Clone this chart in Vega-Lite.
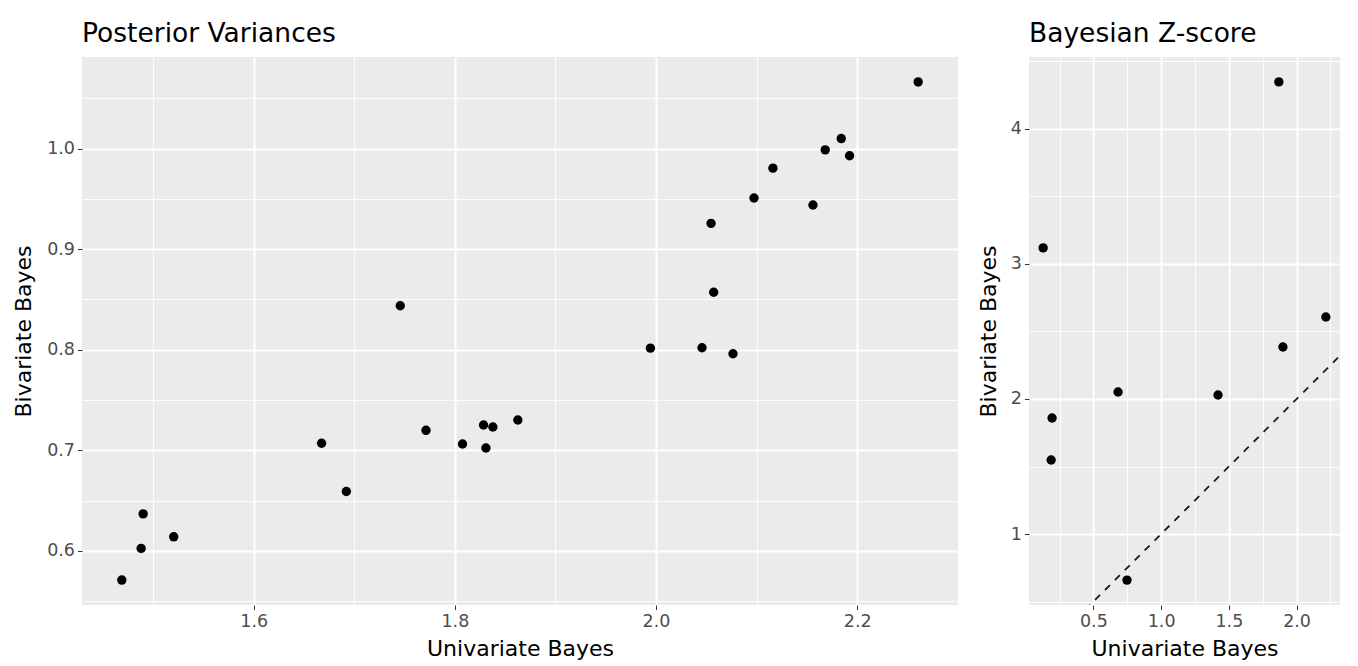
{
  "$schema": "https://vega.github.io/schema/vega-lite/v6.json",
  "background": "white",
  "padding": {"left": 12, "top": 20, "right": 4, "bottom": 4},
  "bounds": "flush",
  "spacing": 71,
  "config": {
    "font": "DejaVu Sans",
    "view": {"fill": "#EBEBEB", "stroke": null},
    "title": {"anchor": "start", "frame": "group", "fontSize": 26.5, "fontWeight": "normal", "color": "#000000", "baseline": "alphabetic", "offset": 10},
    "axis": {
      "domain": false,
      "tickColor": "#333333",
      "tickWidth": 1,
      "labelFontSize": 17.5,
      "labelColor": "#4D4D4D",
      "labelPadding": 3,
      "titleFontSize": 22,
      "titleFontWeight": "normal",
      "titleColor": "#000000",
      "gridColor": "#FFFFFF"
    }
  },
  "datasets": {
    "pv": [
      {"u": 1.4689, "b": 0.5709},
      {"u": 1.4881, "b": 0.6024},
      {"u": 1.4901, "b": 0.6367},
      {"u": 1.5205, "b": 0.6139},
      {"u": 1.6675, "b": 0.7069},
      {"u": 1.6921, "b": 0.6590},
      {"u": 1.7457, "b": 0.8436},
      {"u": 1.7713, "b": 0.7198},
      {"u": 1.8076, "b": 0.7062},
      {"u": 1.8285, "b": 0.7251},
      {"u": 1.8309, "b": 0.7022},
      {"u": 1.8378, "b": 0.7231},
      {"u": 1.8626, "b": 0.7300},
      {"u": 1.9944, "b": 0.8015},
      {"u": 2.0457, "b": 0.8019},
      {"u": 2.0765, "b": 0.7959},
      {"u": 2.0573, "b": 0.8571},
      {"u": 2.0547, "b": 0.9256},
      {"u": 2.0974, "b": 0.9508},
      {"u": 2.1162, "b": 0.9805},
      {"u": 2.1560, "b": 0.9438},
      {"u": 2.1682, "b": 0.9987},
      {"u": 2.1841, "b": 1.0099},
      {"u": 2.1924, "b": 0.9928},
      {"u": 2.2606, "b": 1.0662}
    ],
    "z": [
      {"u": 0.129, "b": 3.119},
      {"u": 0.195, "b": 1.859},
      {"u": 0.188, "b": 1.548},
      {"u": 0.682, "b": 2.052},
      {"u": 0.748, "b": 0.659},
      {"u": 1.420, "b": 2.030},
      {"u": 1.869, "b": 4.348},
      {"u": 1.899, "b": 2.385},
      {"u": 2.216, "b": 2.607}
    ],
    "diag": [
      {"u": 0, "b": 0},
      {"u": 3, "b": 3}
    ]
  },
  "hconcat": [
    {
      "title": "Posterior Variances",
      "width": 876,
      "height": 548,
      "data": {"name": "pv"},
      "mark": {"type": "circle", "size": 88, "opacity": 1, "color": "#000000"},
      "encoding": {
        "x": {
          "field": "u", "type": "quantitative", "title": "Univariate Bayes",
          "scale": {"domain": [1.4293, 2.3002], "nice": false, "zero": false},
          "axis": {
            "values": [1.5, 1.6, 1.7, 1.8, 1.9, 2.0, 2.1, 2.2, 2.3],
            "labelExpr": "abs(round(datum.value*10)) % 2 == 1 ? '' : format(datum.value, '.1f')",
            "tickSize": {"condition": {"test": "abs(round(datum.value*10)) % 2 == 1", "value": 0}, "value": 4.5},
            "gridWidth": {"condition": {"test": "abs(round(datum.value*10)) % 2 == 1", "value": 0.9}, "value": 1.9},
            "titlePadding": 8
          }
        },
        "y": {
          "field": "b", "type": "quantitative", "title": "Bivariate Bayes",
          "scale": {"domain": [0.5461, 1.091], "nice": false, "zero": false},
          "axis": {
            "values": [0.55, 0.6, 0.65, 0.7, 0.75, 0.8, 0.85, 0.9, 0.95, 1.0, 1.05],
            "labelExpr": "round(datum.value*100) % 10 == 5 ? '' : format(datum.value, '.1f')",
            "tickSize": {"condition": {"test": "round(datum.value*100) % 10 == 5", "value": 0}, "value": 4.5},
            "gridWidth": {"condition": {"test": "round(datum.value*100) % 10 == 5", "value": 0.9}, "value": 1.9},
            "titlePadding": 11
          }
        }
      }
    },
    {
      "title": "Bayesian Z-score",
      "width": 311,
      "height": 548,
      "layer": [
        {
          "data": {"name": "diag"},
          "mark": {"type": "line", "clip": true, "color": "#1A1A1A", "strokeWidth": 1.8, "strokeDash": [7, 7]},
          "encoding": {
            "x": {"field": "u", "type": "quantitative"},
            "y": {"field": "b", "type": "quantitative"}
          }
        },
        {
          "data": {"name": "z"},
          "mark": {"type": "circle", "size": 88, "opacity": 1, "color": "#000000"},
          "encoding": {
            "x": {"field": "u", "type": "quantitative"},
            "y": {"field": "b", "type": "quantitative"}
          }
        }
      ],
      "encoding": {
        "x": {
          "field": "u", "type": "quantitative", "title": "Univariate Bayes",
          "scale": {"domain": [0.0246, 2.3204], "nice": false, "zero": false},
          "axis": {
            "values": [0.25, 0.5, 0.75, 1.0, 1.25, 1.5, 1.75, 2.0, 2.25],
            "labelExpr": "round(datum.value*100) % 50 == 25 ? '' : format(datum.value, '.1f')",
            "tickSize": {"condition": {"test": "round(datum.value*100) % 50 == 25", "value": 0}, "value": 4.5},
            "gridWidth": {"condition": {"test": "round(datum.value*100) % 50 == 25", "value": 0.9}, "value": 1.9},
            "titlePadding": 8
          }
        },
        "y": {
          "field": "b", "type": "quantitative", "title": "Bivariate Bayes",
          "scale": {"domain": [0.4745, 4.5325], "nice": false, "zero": false},
          "axis": {
            "values": [0.5, 1, 1.5, 2, 2.5, 3, 3.5, 4, 4.5],
            "labelExpr": "round(datum.value*10) % 10 == 5 ? '' : format(datum.value, 'd')",
            "tickSize": {"condition": {"test": "round(datum.value*10) % 10 == 5", "value": 0}, "value": 4.5},
            "gridWidth": {"condition": {"test": "round(datum.value*10) % 10 == 5", "value": 0.9}, "value": 1.9},
            "titlePadding": 10
          }
        }
      }
    }
  ]
}
